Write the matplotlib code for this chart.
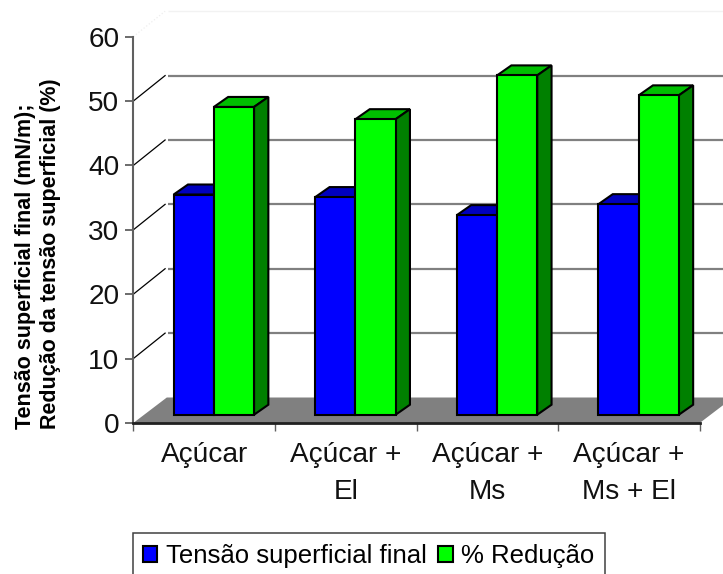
import matplotlib
matplotlib.use("Agg")
import matplotlib.pyplot as plt
from matplotlib.patches import Patch, Rectangle
from matplotlib.ticker import FixedLocator, NullFormatter

categories = ["Açúcar", "Açúcar +\nEl", "Açúcar +\nMs", "Açúcar +\nMs + El"]
tensao = [34.2, 33.8, 31.0, 32.7]
reducao = [47.8, 45.9, 52.7, 49.6]
y_ticks = [0, 10, 20, 30, 40, 50, 60]
series_names = ["Tensão superficial final", "% Redução"]
y_title = "Tensão superficial final (mN/m);\nRedução da tensão superficial (%)"

plt.rcParams["font.family"] = ["Liberation Sans", "DejaVu Sans"]
W, H = 723, 574
fig = plt.figure(figsize=(W / 100, H / 100), dpi=100, facecolor="white")
L, R, T, B = 133.3, 699.7, 36.7, 423.0
ax = fig.add_axes([L / W, 1 - B / H, (R - L) / W, (B - T) / H])
ax.patch.set_visible(False)
ax.set_xlim(0, 4)
ax.set_ylim(0, 60)

px_x = (R - L) / 4
px_y = (B - T) / 60
DX = 33.5 / px_x       # wall depth
DY = 25.5 / px_y
BDX = 14.3 / px_x      # bar depth
BDY = 10.0 / px_y
BASE = 8.3 / px_y      # front of bars above the front floor edge
START = 0.285          # left of first bar in a category
BW = 40.2 / px_x

# floor
ax.fill([0, 4, 4 + DX, DX], [0, 0, DY, DY], facecolor="#808080", edgecolor="none",
        clip_on=False, zorder=1)

# back wall gridlines and side wall lines
for v in y_ticks[1:]:
    c = "#f2f2f2" if v == 60 else "#808080"
    ax.plot([DX + 0.01, 4 + DX], [v + DY, v + DY], color=c, lw=1.6 if v != 60 else 1.0,
            clip_on=False, zorder=1.5, solid_capstyle="butt")
    ax.plot([0, DX - 0.012], [v, v + DY], color="#000000" if v != 60 else "#eeeeee",
            lw=0.9, clip_on=False, zorder=1.5, ls="-" if v != 60 else ":")


def bar3d(x, h, front, top, side, z):
    y0, y1 = BASE, BASE + h
    ek = dict(edgecolor="black", linewidth=1.5, clip_on=False, zorder=z, joinstyle="miter")
    ax.fill([x, x + BW, x + BW + BDX, x + BDX], [y1, y1, y1 + BDY, y1 + BDY],
            facecolor=top, **ek)
    ax.fill([x + BW, x + BW + BDX, x + BW + BDX, x + BW],
            [y0, y0 + BDY, y1 + BDY, y1], facecolor=side, **ek)
    ax.bar(x, h, BW, bottom=y0, align="edge", color=front, edgecolor="black",
           linewidth=1.5, clip_on=False, zorder=z + 0.1)


for i in range(len(categories)):
    bar3d(i + START, tensao[i], "#0000ff", "#0000bf", "#000080", 2 + i)
    bar3d(i + START + BW, reducao[i], "#00ff00", "#00bf00", "#008000", 2.5 + i)

# axes
for s in ("top", "right"):
    ax.spines[s].set_visible(False)
ax.spines["left"].set_color("#606060")
ax.spines["left"].set_linewidth(1.5)
ax.spines["bottom"].set_color("#202020")
ax.spines["bottom"].set_linewidth(2.0)
ax.spines["left"].set_zorder(10)
ax.spines["bottom"].set_zorder(10)
ax.set_yticks(y_ticks)
ax.tick_params(axis="y", length=6, width=1.3, color="#606060", labelsize=20.2, pad=4,
               labelcolor="#111111")
ax.xaxis.set_major_locator(FixedLocator([0, 1, 2, 3, 4]))
ax.xaxis.set_major_formatter(NullFormatter())
ax.set_xticks([i + 0.5 for i in range(len(categories))], categories, minor=True)
ax.tick_params(axis="x", which="major", length=6, width=1.0, color="#606060")
ax.tick_params(axis="x", which="minor", length=0, labelsize=20.2, pad=13.5,
               labelcolor="#111111")
for lab in ax.get_xticklabels(minor=True):
    lab.set_linespacing(1.54)

fig.text(38 / W, 1 - 254 / H, y_title, rotation=90, ha="center", va="center",
         fontsize=15.5, fontweight="bold", linespacing=1.31, multialignment="left")

# legend frame runs off the bottom of the figure
fig.add_artist(Rectangle((133 / W, 1 - 600 / H), 472 / W, 67 / H, transform=fig.transFigure,
                         facecolor="white", edgecolor="#404040", linewidth=1.1))
handles = [Patch(facecolor="#0000ff", edgecolor="black", linewidth=1.5),
           Patch(facecolor="#00ff00", edgecolor="black", linewidth=1.5)]
leg = fig.legend(handles, series_names, loc="upper left",
                 bbox_to_anchor=(142.5 / W, 1 - 544 / H), bbox_transform=fig.transFigure,
                 ncol=2, fontsize=18.55, frameon=False, borderaxespad=0, borderpad=0,
                 handlelength=0.58, handleheight=0.58, handletextpad=0.33, columnspacing=0.43)

fig.savefig("out.png", dpi=100)
